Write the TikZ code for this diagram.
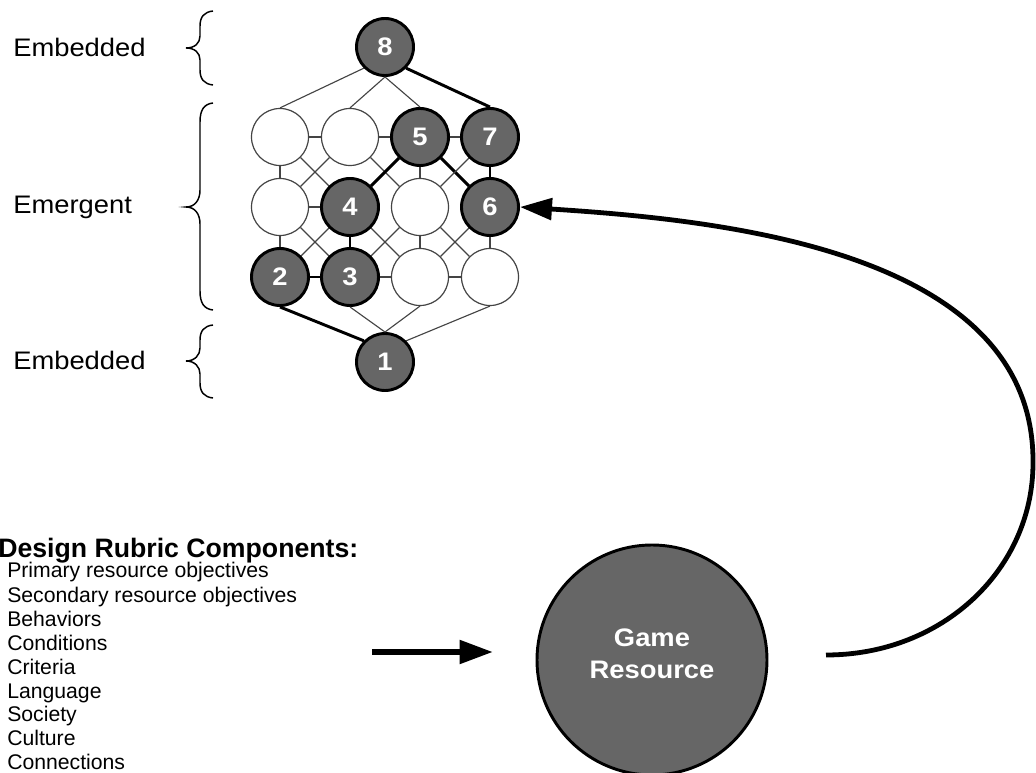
\documentclass[tikz,border=0pt]{standalone}
\usepackage{fontspec}
\setmainfont{Liberation Sans}
\newfontfamily\widesans[FakeStretch=1.08]{Liberation Sans}
\usetikzlibrary{arrows.meta}
\definecolor{dkgray}{HTML}{666666}
\definecolor{edgegray}{HTML}{444444}
\begin{document}
\begin{tikzpicture}[x=0.75pt,y=-0.75pt,
  lat/.style={circle, minimum size=42.75pt, inner sep=0pt, draw=edgegray, line width=0.9pt, fill=white},
  hot/.style={lat, fill=dkgray, draw=black, line width=2.2pt, text=white, font=\widesans\bfseries\fontsize{19}{20}\selectfont},
  edgethin/.style={draw=edgegray, line width=0.85pt},
  edgethick/.style={draw=black, line width=2.2pt},
  bracestyle/.style={draw=black, line width=1.1pt},
  lbl/.style={anchor=west, inner sep=0pt, font=\widesans\fontsize{19}{20}\selectfont},
  item/.style={anchor=base west, inner sep=0pt, font=\fontsize{15.9}{18}\selectfont},
  bigarrow/.style={line width=4.5pt, -{Triangle[length=25pt,width=17pt]}},
  curvearrow/.style={line width=3.6pt, -{Triangle[length=24pt,width=16pt]}}]
\useasboundingbox (0,0) rectangle (1036,773);
% lattice nodes
\node[hot] (n8) at (385,47) {8};
\node[lat] (t1) at (280,137) {};
\node[lat] (t2) at (350,137) {};
\node[hot] (t3) at (420,137) {5};
\node[hot] (t4) at (490,137) {7};
\node[lat] (m1) at (280,207) {};
\node[hot] (m2) at (350,207) {4};
\node[lat] (m3) at (420,207) {};
\node[hot] (m4) at (490,207) {6};
\node[hot] (b1) at (280,277) {2};
\node[hot] (b2) at (350,277) {3};
\node[lat] (b3) at (420,277) {};
\node[lat] (b4) at (490,277) {};
\node[hot] (n1) at (385,362) {1};
% edges from top
\draw[edgethin] (n8.south west) -- (t1.north);
\draw[edgethin] (n8.south) -- (t2.north);
\draw[edgethin] (n8.south) -- (t3.north);
\draw[edgethick] (n8.south east) -- (t4.north);
% horizontals
\draw[edgethin] (t1.east) -- (t2.west);
\draw[edgethin] (t2.east) -- (t3.west);
\draw[edgethin] (t3.east) -- (t4.west);
\draw[edgethin] (m1.east) -- (m2.west);
\draw[edgethick] (b1.east) -- (b2.west);
\draw[edgethin] (b2.east) -- (b3.west);
\draw[edgethin] (b3.east) -- (b4.west);
% top row to middle row
\draw[edgethin] (t1.south) -- (m1.north);
\draw[edgethin] (t1.south east) -- (m2.north west);
\draw[edgethin] (t2.south west) -- (m1.north east);
\draw[edgethin] (t2.south east) -- (m3.north west);
\draw[edgethick] (t3.south west) -- (m2.north east);
\draw[edgethin] (t3.south) -- (m3.north);
\draw[edgethick] (t3.south east) -- (m4.north west);
\draw[edgethin] (t4.south west) -- (m3.north east);
\draw[edgethick] (t4.south) -- (m4.north);
% middle row to bottom row
\draw[edgethin] (m1.south) -- (b1.north);
\draw[edgethin] (m1.south east) -- (b2.north west);
\draw[edgethin] (m2.south west) -- (b1.north east);
\draw[edgethick] (m2.south) -- (b2.north);
\draw[edgethin] (m2.south east) -- (b3.north west);
\draw[edgethin] (m3.south west) -- (b2.north east);
\draw[edgethin] (m3.south) -- (b3.north);
\draw[edgethin] (m3.south east) -- (b4.north west);
\draw[edgethin] (m4.south west) -- (b3.north east);
\draw[edgethin] (m4.south) -- (b4.north);
% bottom row to 1
\draw[edgethick] (b1.south) -- (n1.north west);
\draw[edgethin] (b2.south) -- (n1.north);
\draw[edgethin] (b3.south) -- (n1.north);
\draw[edgethin] (b4.south) -- (n1.north east);
% braces
\draw[bracestyle] (213,11) .. controls (204,12) and (200,17) .. (200,26) -- (200,36)
  .. controls (200,43) and (195,48) .. (186,48) .. controls (195,48) and (200,53) .. (200,60)
  -- (200,70) .. controls (200,79) and (204,84) .. (213,85);
\draw[bracestyle] (213,103) .. controls (204,104) and (200,110) .. (200,122) -- (200,190)
  .. controls (200,200) and (195,207) .. (186,207) .. controls (195,207) and (200,214) .. (200,224)
  -- (200,291) .. controls (200,303) and (204,309) .. (213,310);
\draw[bracestyle] (213,325) .. controls (204,326) and (200,331) .. (200,340) -- (200,348)
  .. controls (200,355) and (195,361) .. (186,361) .. controls (195,361) and (200,367) .. (200,374)
  -- (200,383) .. controls (200,392) and (204,397) .. (213,398);
% labels
\node[lbl] (lblTop) at (13,47) {Embedded};
\node[lbl] (lblMid) at (13,207) {Emergent};
\node[lbl] (lblBot) at (13,360) {Embedded};
% rubric list
\node[anchor=base west, inner sep=0pt, font=\bfseries\fontsize{20}{20}\selectfont] (title) at (-2,557) {Design Rubric Components:};
\node[item] (i1) at (7,578) {Primary resource objectives};
\node[item] (i2) at (7,602) {Secondary resource objectives};
\node[item] (i3) at (7,626) {Behaviors};
\node[item] (i4) at (7,650) {Conditions};
\node[item] (i5) at (7,674) {Criteria};
\node[item] (i6) at (7,698) {Language};
\node[item] (i7) at (7,721) {Society};
\node[item] (i8) at (7,745) {Culture};
\node[item] (i9) at (7,769) {Connections};
% game resource
\node[circle, minimum size=172.5pt, inner sep=0pt, fill=dkgray, draw=black, line width=2.2pt] (game) at (652,660) {};
\node[align=center, text=white, font=\widesans\bfseries\fontsize{19}{24}\selectfont] (gametext) at ([yshift=4.5pt]game.center) {Game\\Resource};
% arrows
\coordinate (arrS) at (372,652);
\coordinate (arrE) at (493,652);
\draw[bigarrow] (arrS) -- (arrE);
\coordinate (cstart) at (826,655);
\draw[curvearrow] (cstart) .. controls (943,655) and (1033,569) .. (1033,463)
  .. controls (1035,250) and (720,220) .. (m4.east);
\end{tikzpicture}
\end{document}
